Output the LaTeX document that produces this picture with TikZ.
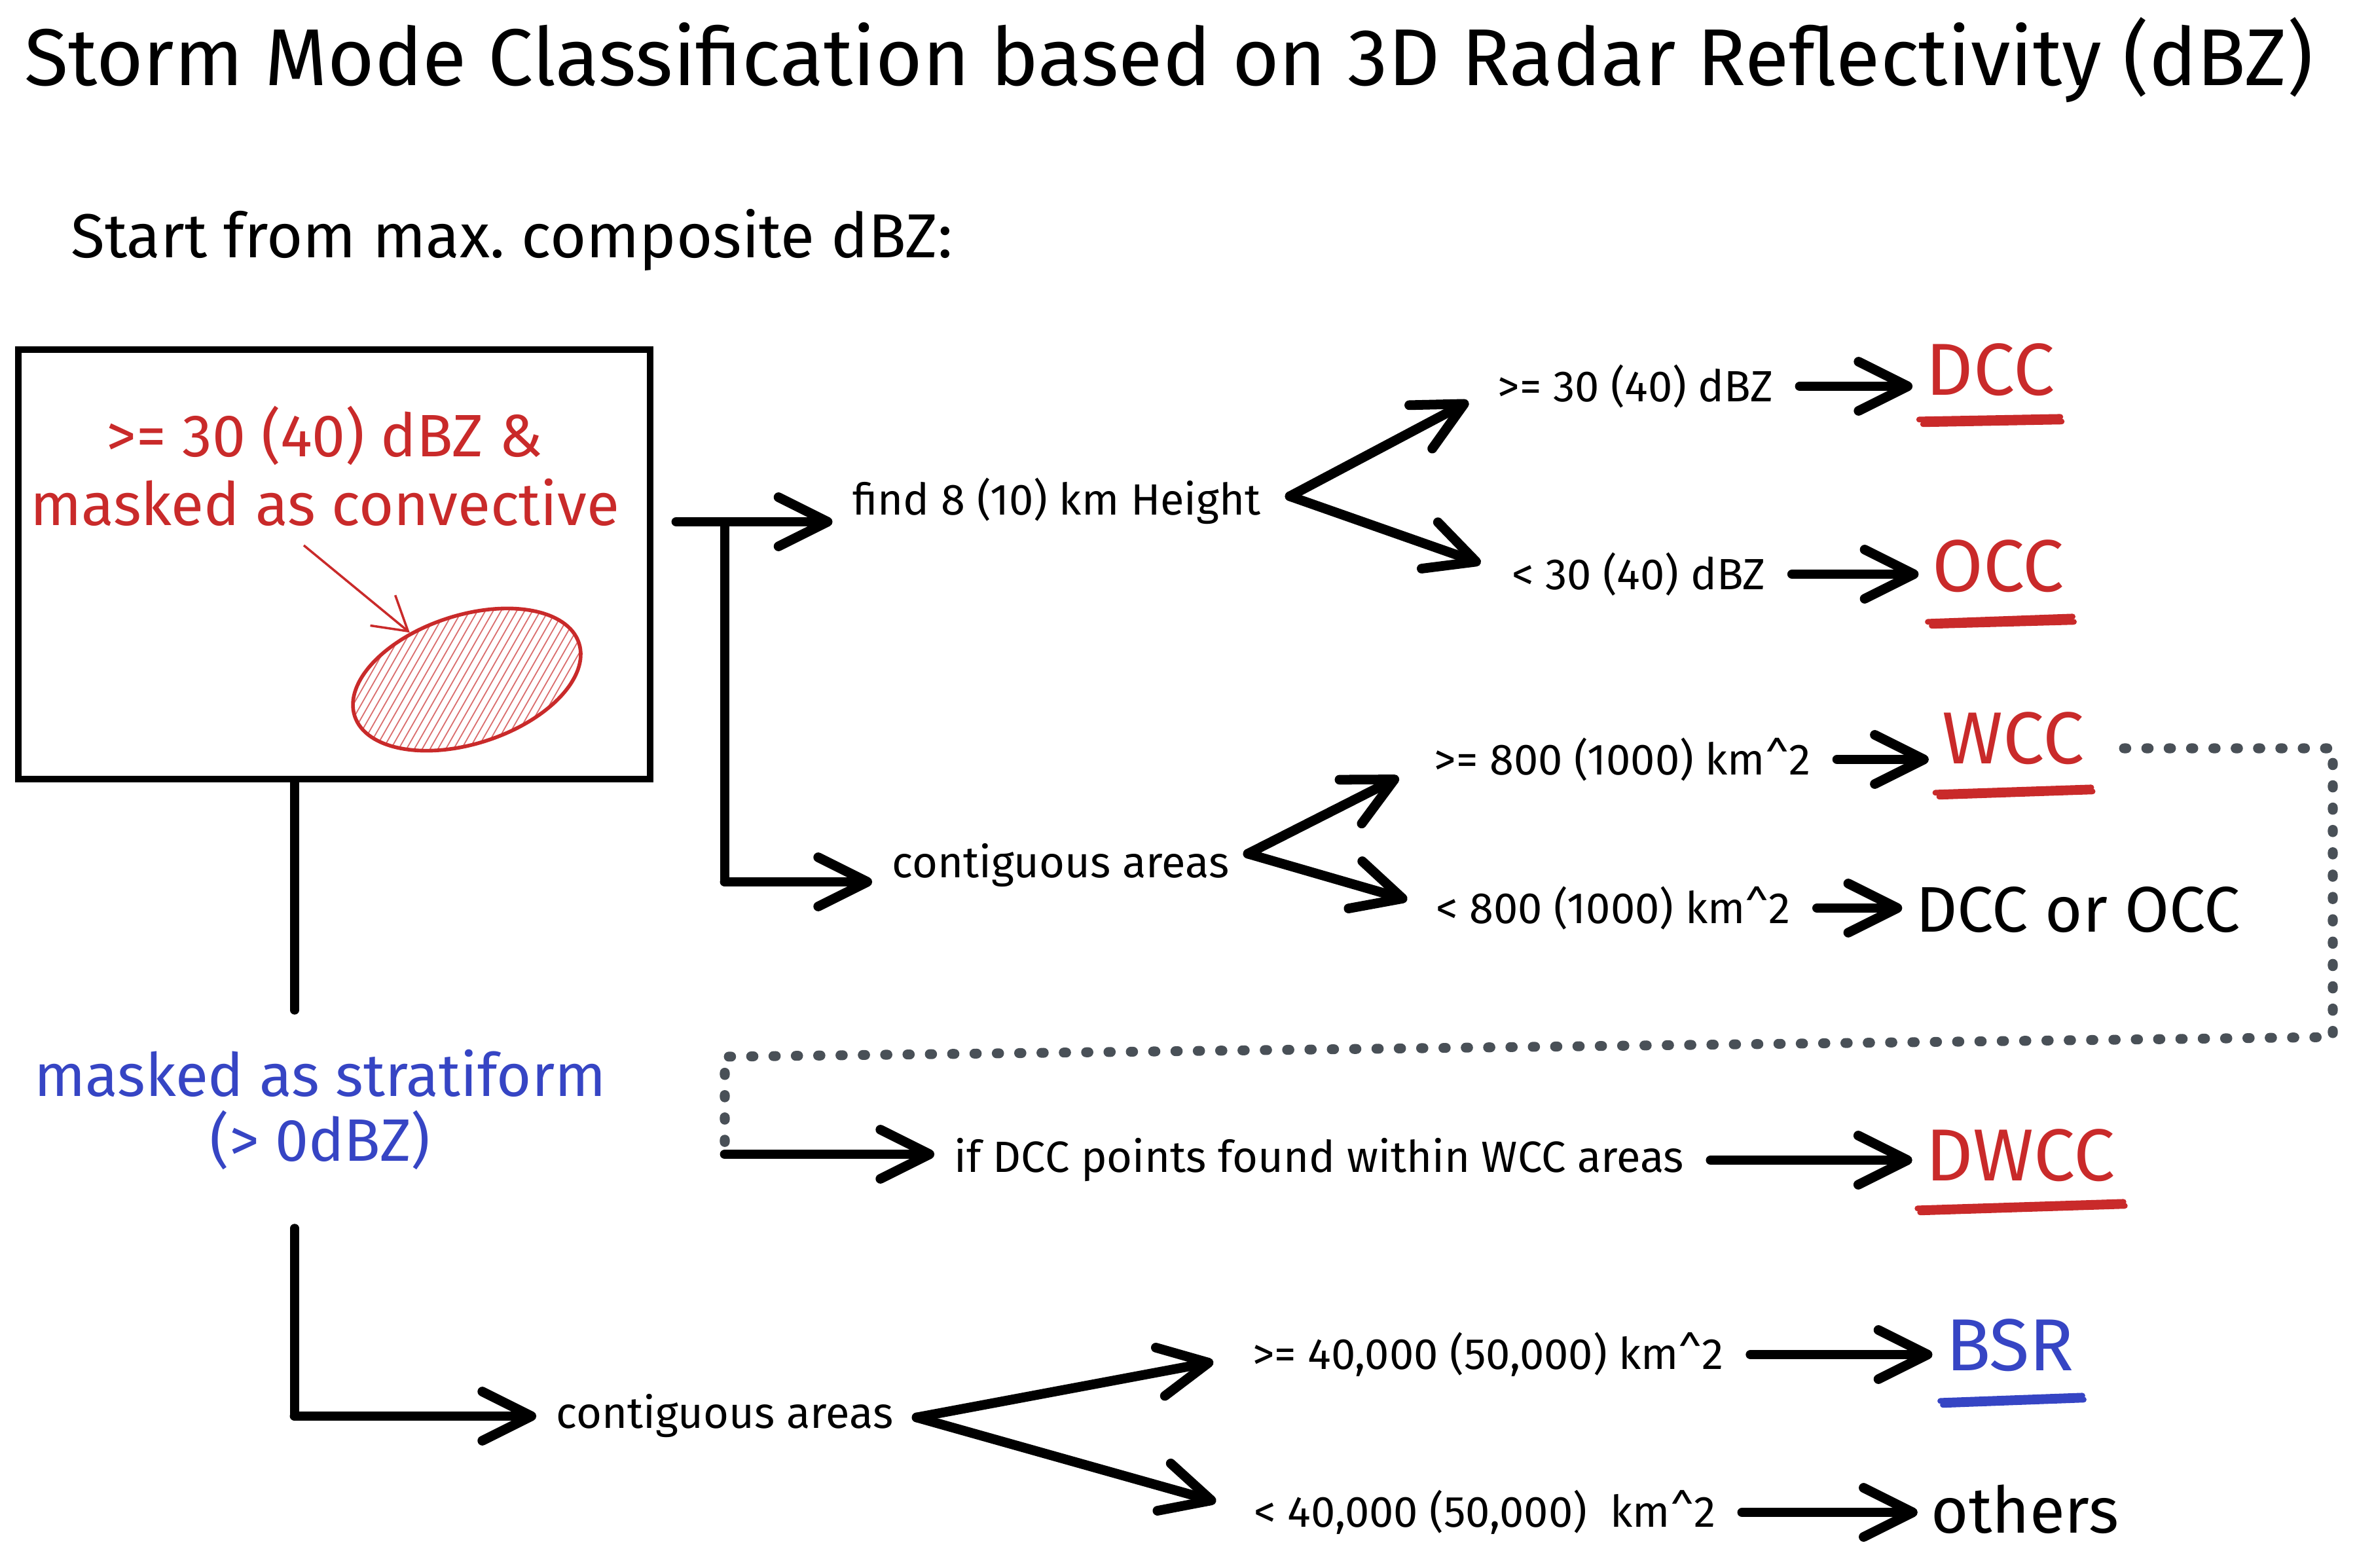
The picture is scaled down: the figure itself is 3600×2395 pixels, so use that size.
\documentclass[tikz,border=0pt]{standalone}
\usepackage{fontspec}
\setmainfont{Fira Sans}
\usetikzlibrary{arrows.meta,shapes.geometric}

\definecolor{stormred}{HTML}{C92A2A}
\definecolor{stormblue}{HTML}{3645C4}
\definecolor{dotgray}{HTML}{495057}

\begin{document}
\begin{tikzpicture}[x=0.01cm, y=-0.01cm,
  cond/.style={inner sep=0pt, font=\fontsize{19}{23}\selectfont},
  modelbl/.style={inner sep=0pt, font=\fontsize{32}{38}\selectfont},
  outlbl/.style={inner sep=0pt, font=\fontsize{28}{34}\selectfont},
  bigarrow/.style={line width=4.2pt, line cap=round, -{Straight Barb[length=7.5mm, width=7.5mm, round]}},
  link/.style={bigarrow, shorten <=4mm, shorten >=2mm},
  stem/.style={line width=3.8pt, line cap=round},
  uline/.style={line width=2.5pt, line cap=round},
  pointer/.style={stormred, line width=1pt, -{Straight Barb[length=5mm, width=6mm]}},
  hatch/.style={stormred!70, line width=0.5pt},
  dots/.style={draw=dotgray, line width=4.3pt, line cap=round, dash pattern=on 1pt off 8.7pt}]
\useasboundingbox (0,0) rectangle (3600,2395);

\node[font=\fontsize{35}{42}\selectfont] (title) at (1785,92)
  {Storm Mode Classification based on 3D Radar Reflectivity (dBZ)};
\node[anchor=west, font=\fontsize{27}{32}\selectfont] (start) at (96,367)
  {Start from max.\ composite dBZ:};

% convective box
\node[draw, line width=2.8pt, minimum width=9.65cm, minimum height=6.56cm, inner sep=0pt] (convbox) at (510.5,862) {};
\node[stormred, align=center, font=\fontsize{26}{30}\selectfont] (convtxt) at (496,712)
  {>= 30 (40) dBZ \&\\masked as convective};
\begin{scope}
  \clip[rotate around={18:(713,1038)}] (713,1038) ellipse [x radius=180, y radius=98];
  \foreach \k in {0,12,...,540}
    \draw[hatch] (390+\k,1170) -- (550+\k,890);
\end{scope}
\node[draw=stormred, line width=1.6pt, ellipse, inner sep=0pt, minimum width=3.6cm, minimum height=1.96cm, rotate=18] (cell) at (713,1038) {};
\coordinate (ptr) at (464,833);
\draw[pointer] (ptr) -- (cell);

% stratiform
\node[stormblue, align=center, font=\fontsize{26}{28}\selectfont] (strat) at (489,1695)
  {masked as stratiform\\(> 0dBZ)};
\coordinate (s1) at (450,1543);
\coordinate (s2) at (450,1876);
\draw[stem] (convbox.south -| s1) -- (s1);

% height branch
\coordinate (jtop) at (1107,797);
\coordinate (jbot) at (1107,1347);
\draw[stem] (jtop) -- (jbot);
\node[cond] (find) at (1614,765) {find 8 (10) km Height};
\draw[bigarrow, shorten >=3mm] ([xshift=-0.74cm]jtop) -- (jtop -| find.west);
\coordinate (ffork) at (1970,758);
\node[cond] (hi30) at (2498,590) {>= 30 (40) dBZ};
\node[cond] (lo30) at (2503,877) {< 30 (40) dBZ};
\draw[bigarrow, shorten >=5mm] (ffork) -- (hi30.west);
\draw[bigarrow, shorten >=5mm] (ffork) -- (lo30.west);
\node[modelbl, stormred] (dcc) at (3040,565) {DCC};
\node[modelbl, stormred] (occ) at (3052,865) {OCC};
\draw[link] (hi30.east) -- (hi30.east -| dcc.west);
\draw[link] (lo30.east) -- (lo30.east -| occ.west);
\draw[uline, stormred] ([shift={(-10,35)}]dcc.south west) -- ([shift={(8,31)}]dcc.south east);
\draw[uline, stormred] ([shift={(-4,42)}]dcc.south west) -- ([shift={(10,38)}]dcc.south east);
\draw[uline, stormred] ([shift={(-6,44)}]occ.south west) -- ([shift={(12,36)}]occ.south east);
\draw[uline, stormred] ([shift={(0,50)}]occ.south west) -- ([shift={(14,44)}]occ.south east);

% area branch
\node[cond] (contw) at (1620,1322) {contiguous areas};
\draw[bigarrow, shorten >=3mm] (jbot) -- (jbot -| contw.west);
\coordinate (wfork) at (1906,1304);
\node[cond] (hi800) at (2478,1160) {>= 800 (1000) km\textasciicircum 2};
\node[cond] (lo800) at (2464,1387) {< 800 (1000) km\textasciicircum 2};
\draw[bigarrow, shorten >=6mm] (wfork) -- (hi800.west);
\draw[bigarrow, shorten >=4.5mm] (wfork) -- (lo800.west);
\node[modelbl, stormred] (wcc) at (3075,1128) {WCC};
\node[outlbl] (dccocc) at (3174,1390) {DCC or OCC};
\draw[link] (hi800.east) -- (hi800.east -| wcc.west);
\draw[link] (lo800.east) -- (lo800.east -| dccocc.west);
\draw[uline, stormred] ([shift={(-10,42)}]wcc.south west) -- ([shift={(10,34)}]wcc.south east);
\draw[uline, stormred] ([shift={(-4,48)}]wcc.south west) -- ([shift={(12,40)}]wcc.south east);

% dwcc
\coordinate (dotend) at (1107,1763);
\draw[dots] ([shift={(60,15)}]wcc.east) -- (3563,1143) -- (3563,1584) -- (1107,1614) -- (dotend);
\node[cond] (ifdcc) at (2015,1772) {if DCC points found within WCC areas};
\draw[bigarrow, shorten >=3mm] (dotend) -- (dotend -| ifdcc.west);
\node[modelbl, stormred] (dwcc) at (3086,1765) {DWCC};
\draw[link] (ifdcc.east) -- (ifdcc.east -| dwcc.west);
\draw[uline, stormred] ([shift={(-12,40)}]dwcc.south west) -- ([shift={(12,30)}]dwcc.south east);
\draw[uline, stormred] ([shift={(-8,46)}]dwcc.south west) -- ([shift={(14,36)}]dwcc.south east);

% stratiform branch
\node[cond] (contb) at (1107,2163) {contiguous areas};
\draw[stem] (s2) -- (s2 |- contb.west);
\draw[bigarrow, shorten >=3mm] (s2 |- contb.west) -- (contb.west);
\coordinate (bfork) at (1400,2165);
\node[cond] (hi40) at (2273,2069) {>= 40,000 (50,000) km\textasciicircum 2};
\node[cond] (lo40) at (2268,2310) {< 40,000 (50,000)\ \ km\textasciicircum 2};
\draw[bigarrow, shorten >=6mm] (bfork) -- (hi40.west);
\draw[bigarrow, shorten >=6mm] (bfork) -- (lo40.west);
\node[modelbl, stormblue] (bsr) at (3070,2055) {BSR};
\node[outlbl] (others) at (3093,2305) {others};
\draw[link] (hi40.east) -- (hi40.east -| bsr.west);
\draw[link] (lo40.east) -- (lo40.east -| others.west);
\draw[uline, stormblue] ([shift={(-8,44)}]bsr.south west) -- ([shift={(12,36)}]bsr.south east);
\draw[uline, stormblue] ([shift={(-4,50)}]bsr.south west) -- ([shift={(14,42)}]bsr.south east);
\end{tikzpicture}
\end{document}
